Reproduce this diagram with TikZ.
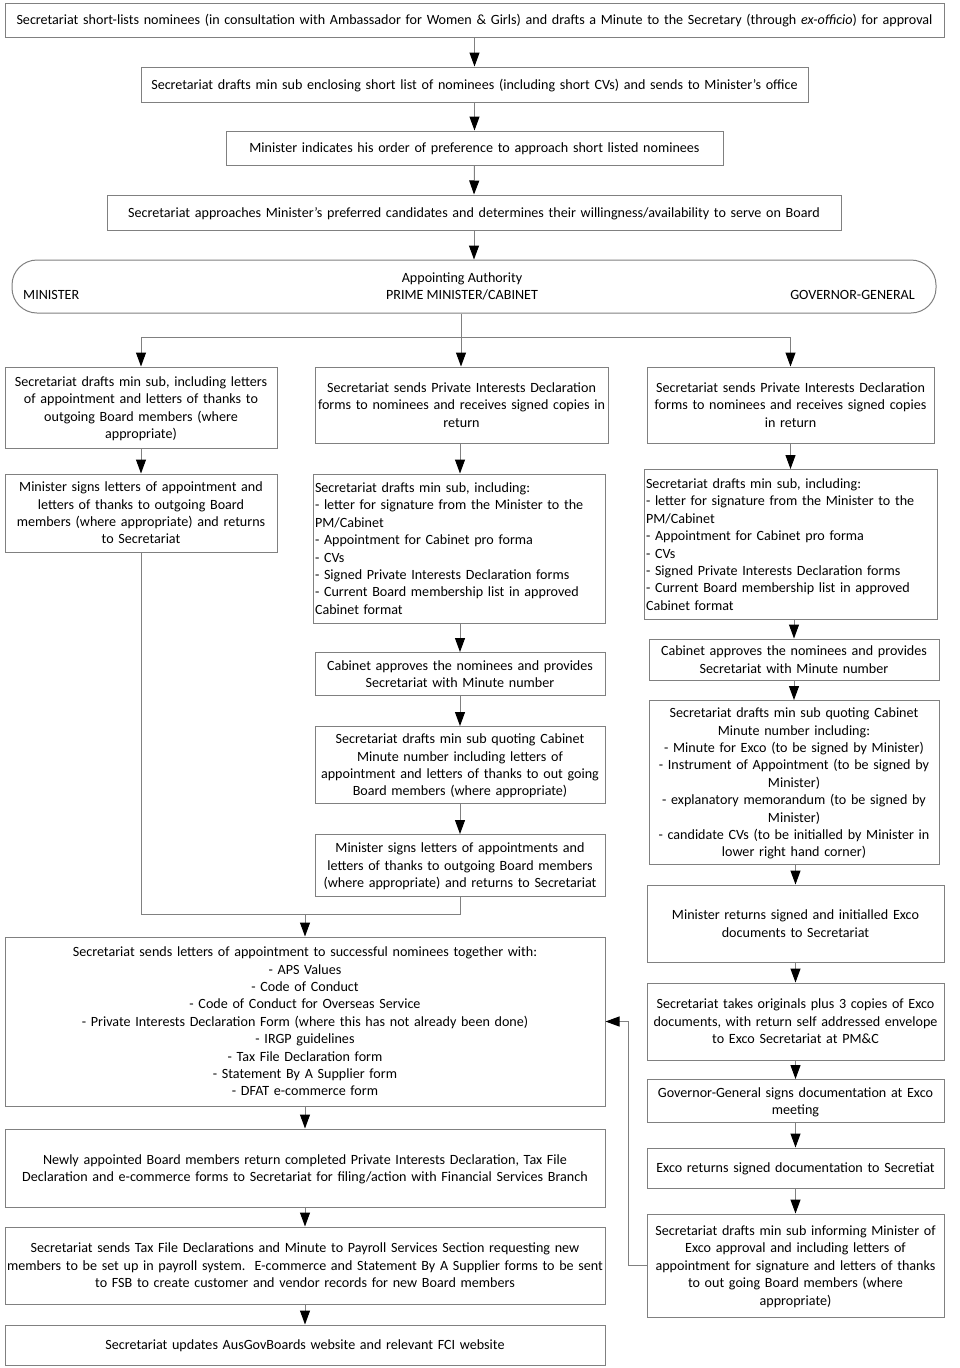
\documentclass[tikz,border=0pt]{standalone}
\usepackage{fontspec}
\setmainfont{Carlito}
\usetikzlibrary{arrows.meta}
\definecolor{lc}{RGB}{128,128,128}
\newcommand\fs{\fontsize{14.1}{17.35}\selectfont}
\newcommand\wstrut{\rule[-3.85pt]{0pt}{17.35pt}}
\tikzset{
  box/.style={draw=lc, line width=1pt, inner xsep=2pt, inner ysep=0pt, font=\fs, align=center, anchor=center, execute at begin node={\wstrut}, execute at end node={\wstrut}},
  lbox/.style={box, align=left},
  lbl/.style={inner sep=0pt, font=\fs},
  ln/.style={draw=lc, line width=1pt},
  arr/.style={draw=lc, line width=1pt, -{Triangle[width=10pt,length=14pt,color=black]}}
}
\begin{document}
\begin{tikzpicture}[x=1pt,y=-1pt]
\useasboundingbox (0,0) rectangle (960,1368);
% top chain
\node[box, minimum width=939pt, minimum height=34pt, text width=935pt] (T1) at (474.5,20) {Secretariat short-lists nominees (in consultation with Ambassador for Women \& Girls) and drafts a Minute to the Secretary (through \emph{ex-officio}) for approval};
\node[box, minimum width=667pt, minimum height=35pt, text width=663pt] (T2) at (474.5,84.5) {Secretariat drafts min sub enclosing short list of nominees (including short CVs) and sends to Minister’s office};
\node[box, minimum width=497pt, minimum height=34pt, text width=493pt] (T3) at (474.5,148) {Minister indicates his order of preference to approach short listed nominees};
\node[box, minimum width=734pt, minimum height=35pt, text width=730pt] (T4) at (474,212.5) {Secretariat approaches Minister’s preferred candidates and determines their willingness/availability to serve on Board};
% authority
\node[draw=lc, line width=1pt, rounded corners=25pt, minimum width=924pt, minimum height=53pt, inner sep=0pt] (auth) at (474,286.5) {};
\node[lbl] (aut1) at (462,279) {Appointing Authority};
\node[lbl] (aut2) at (462,295) {PRIME MINISTER/CABINET};
\node[lbl, anchor=west] (autm) at (23,295) {MINISTER};
\node[lbl, anchor=east] (autg) at (915,295) {GOVERNOR-GENERAL};
% left column
\node[box, minimum width=272pt, minimum height=81pt, text width=268pt] (L1) at (141,407.5) {Secretariat drafts min sub, including letters\\ of appointment and letters of thanks to\\ outgoing Board members (where\\ appropriate)};
\node[box, minimum width=272pt, minimum height=78pt, text width=268pt] (L2) at (141,513) {Minister signs letters of appointment and\\ letters of thanks to outgoing Board\\ members (where appropriate) and returns\\ to Secretariat};
% middle column
\node[box, minimum width=293pt, minimum height=76pt, text width=289pt] (M1) at (461.5,405) {Secretariat sends Private Interests Declaration\\ forms to nominees and receives signed copies in\\ return};
\node[lbox, minimum width=292pt, minimum height=149pt, text width=288pt] (M2) at (459,548.5) {Secretariat drafts min sub, including:\\ - letter for signature from the Minister to the\\ PM/Cabinet\\ - Appointment for Cabinet pro forma\\ - CVs\\ - Signed Private Interests Declaration forms\\ - Current Board membership list in approved\\ Cabinet format};
\node[box, minimum width=290pt, minimum height=43pt, text width=286pt] (M3) at (460,674) {Cabinet approves the nominees and provides\\ Secretariat with Minute number};
\node[box, minimum width=290pt, minimum height=77pt, text width=286pt] (M4) at (460,765) {Secretariat drafts min sub quoting Cabinet\\ Minute number including letters of\\ appointment and letters of thanks to out going\\ Board members (where appropriate)};
\node[box, minimum width=290pt, minimum height=62pt, text width=286pt] (M5) at (460,865.5) {Minister signs letters of appointments and\\ letters of thanks to outgoing Board members\\ (where appropriate) and returns to Secretariat};
% right column
\node[box, minimum width=287pt, minimum height=76pt, text width=283pt] (R1) at (790.5,405) {Secretariat sends Private Interests Declaration\\ forms to nominees and receives signed copies\\ in return};
\node[lbox, minimum width=293pt, minimum height=150pt, text width=289pt] (R2) at (790.5,544.5) {Secretariat drafts min sub, including:\\ - letter for signature from the Minister to the\\ PM/Cabinet\\ - Appointment for Cabinet pro forma\\ - CVs\\ - Signed Private Interests Declaration forms\\ - Current Board membership list in approved\\ Cabinet format};
\node[box, minimum width=290pt, minimum height=41pt, text width=286pt] (R3) at (794,659.5) {Cabinet approves the nominees and provides\\ Secretariat with Minute number};
\node[box, minimum width=290pt, minimum height=164pt, text width=286pt] (R4) at (794,782.5) {Secretariat drafts min sub quoting Cabinet\\ Minute number including:\\ - Minute for Exco (to be signed by Minister)\\ - Instrument of Appointment (to be signed by\\ Minister)\\ - explanatory memorandum (to be signed by\\ Minister)\\ - candidate CVs (to be initialled by Minister in\\ lower right hand corner)};
\node[box, minimum width=297pt, minimum height=77pt, text width=293pt] (R5) at (795.5,923.5) {Minister returns signed and initialled Exco\\ documents to Secretariat};
\node[box, minimum width=297pt, minimum height=77pt, text width=293pt] (R6) at (795.5,1021.5) {Secretariat takes originals plus 3 copies of Exco\\ documents, with return self addressed envelope\\ to Exco Secretariat at PM\&C};
\node[box, minimum width=297pt, minimum height=43pt, text width=293pt] (R7) at (795.5,1101) {Governor-General signs documentation at Exco\\ meeting};
\node[box, minimum width=297pt, minimum height=40pt, text width=293pt] (R8) at (795.5,1168) {Exco returns signed documentation to Secretiat};
\node[box, minimum width=297pt, minimum height=103pt, text width=293pt] (R9) at (795.5,1265.5) {Secretariat drafts min sub informing Minister of\\ Exco approval and including letters of\\ appointment for signature and letters of thanks\\ to out going Board members (where\\ appropriate)};
% bottom column
\node[box, minimum width=600pt, minimum height=169pt, text width=596pt] (B1) at (305,1021.5) {Secretariat sends letters of appointment to successful nominees together with:\\ - APS Values\\ - Code of Conduct\\ - Code of Conduct for Overseas Service\\ - Private Interests Declaration Form (where this has not already been done)\\ - IRGP guidelines\\ - Tax File Declaration form\\ - Statement By A Supplier form\\ - DFAT e-commerce form};
\node[box, minimum width=600pt, minimum height=78pt, text width=596pt] (B2) at (305,1168) {Newly appointed Board members return completed Private Interests Declaration, Tax File\\ Declaration and e-commerce forms to Secretariat for filing/action with Financial Services Branch};
\node[box, minimum width=600pt, minimum height=77pt, text width=596pt] (B3) at (305,1265.5) {Secretariat sends Tax File Declarations and Minute to Payroll Services Section requesting new\\ members to be set up in payroll system.\ \ E-commerce and Statement By A Supplier forms to be sent\\ to FSB to create customer and vendor records for new Board members};
\node[box, minimum width=600pt, minimum height=40pt, text width=596pt] (B4) at (305,1345) {Secretariat updates AusGovBoards website and relevant FCI website};
% connectors top
\draw[arr] (T1.south) -- (T2.north);
\draw[arr] (T2.south) -- (T3.north);
\draw[arr] (T3.south) -- (T4.north);
\draw[arr] (T4.south) -- (auth.north -| T4.south);
\coordinate (split) at (461,337);
\draw[ln] (auth.south -| split) -- (split);
\draw[ln] (L1.north |- split) -- (R1.north |- split);
\draw[arr] (split) -- (M1.north -| split);
\draw[arr] (L1.north |- split) -- (L1.north);
\draw[arr] (R1.north |- split) -- (R1.north);
% left
\draw[arr] (L1.south) -- (L2.north);
% middle
\draw[arr] (M1.south -| M3.north) -- (M2.north -| M3.north);
\draw[arr] (M2.south -| M3.north) -- (M3.north);
\draw[arr] (M3.south) -- (M4.north);
\draw[arr] (M4.south) -- (M5.north);
% right
\draw[arr] (R1.south) -- (R2.north -| R1.south);
\draw[arr] (R2.south -| R3.north) -- (R3.north);
\draw[arr] (R3.south) -- (R4.north);
\draw[arr] (R4.south -| R5.north) -- (R5.north);
\draw[arr] (R5.south) -- (R6.north);
\draw[arr] (R6.south) -- (R7.north);
\draw[arr] (R7.south) -- (R8.north);
\draw[arr] (R8.south) -- (R9.north);
% merge
\coordinate (jn) at (305,914);
\draw[ln] (L2.south) |- (jn) -| (M5.south);
\draw[arr] (jn) -- (B1.north);
\coordinate (fb) at (628,1021.5);
\draw[arr] (R9.west) -| (fb) -- (B1.east);
% bottom
\draw[arr] (B1.south) -- (B2.north);
\draw[arr] (B2.south) -- (B3.north);
\draw[arr] (B3.south) -- (B4.north);
\end{tikzpicture}
\end{document}
